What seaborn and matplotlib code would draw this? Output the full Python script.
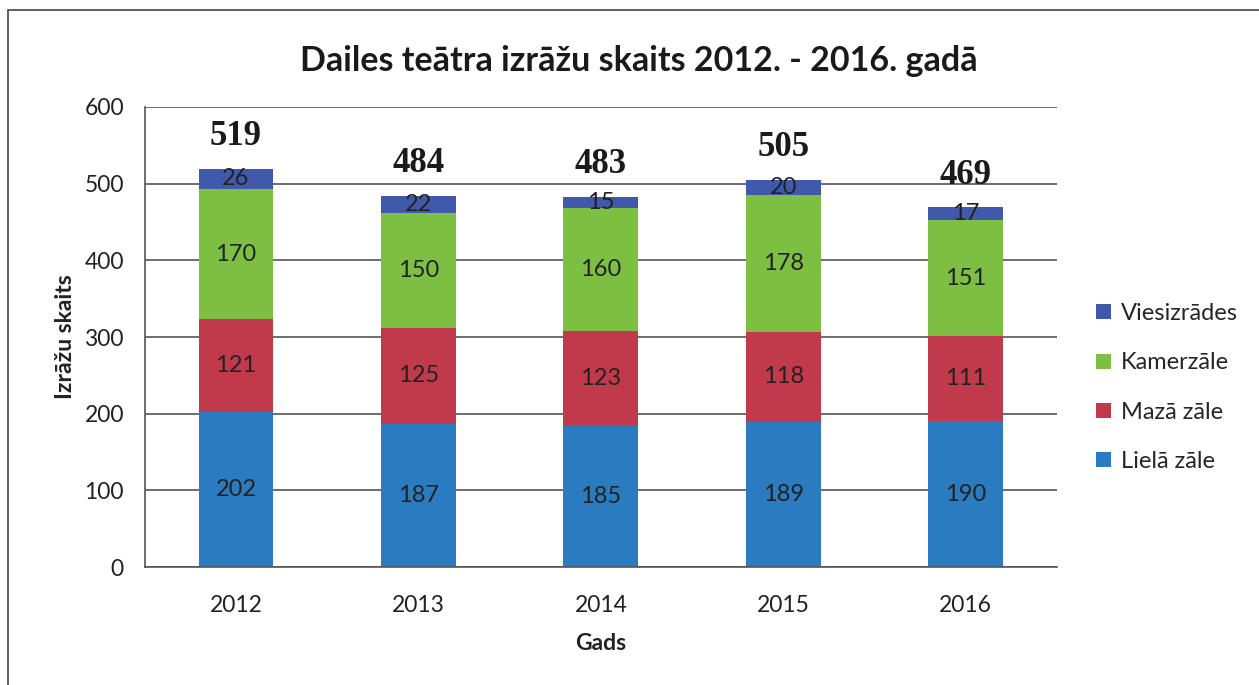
import matplotlib
matplotlib.use("Agg")
import matplotlib.pyplot as plt
import seaborn as sns
import pandas as pd
import numpy as np
from matplotlib.patches import Rectangle

years = ["2012", "2013", "2014", "2015", "2016"]
liela_zale = [202, 187, 185, 189, 190]
maza_zale = [121, 125, 123, 118, 111]
kamerzale = [170, 150, 160, 178, 151]
viesizrades = [26, 22, 15, 20, 17]
totals = [519, 484, 483, 505, 469]
series_names = ["Lielā zāle", "Mazā zāle", "Kamerzāle", "Viesizrādes"]
title = "Dailes teātra izrāžu skaits 2012. - 2016. gadā"

colors = ["#2a7bc0", "#c03a4c", "#7dbf43", "#4059ab"]

sns.set_style("white")
plt.rcParams["font.family"] = ["Lato", "DejaVu Sans"]

fig = plt.figure(figsize=(12.59, 6.85), dpi=100)
ax = fig.add_axes([0.115, 0.172, 0.7245, 0.672])

df = pd.DataFrame({"year": years, series_names[0]: liela_zale, series_names[1]: maza_zale,
                   series_names[2]: kamerzale, series_names[3]: viesizrades})

bottom = np.zeros(len(years))
for name, col in zip(series_names, colors):
    vals = df[name].to_numpy()
    sns.barplot(data=df, x="year", y=name, color=col, bottom=bottom, width=0.41,
                ax=ax, label=name, saturation=1, linewidth=0, edgecolor="none")
    bottom = bottom + vals

# segment labels
bottom = np.zeros(len(years))
for name in series_names:
    vals = df[name].to_numpy()
    for i, v in enumerate(vals):
        ax.text(i, bottom[i] + v / 2, str(v), ha="center", va="center",
                fontsize=17, color="#222222")
    bottom = bottom + vals

# totals
for i, t in enumerate(totals):
    ax.text(i, t + 42, str(t), ha="center", va="center", fontsize=25,
            fontweight="bold", family="Liberation Serif", color="#1a1a1a")

ax.set_ylim(0, 600)
ax.set_xlim(-0.5, len(years) - 0.5)
ax.set_yticks(range(0, 601, 100))
ax.yaxis.grid(True, color="#555555", linewidth=1.2)
ax.set_axisbelow(True)
for s in ["top", "right"]:
    ax.spines[s].set_visible(False)
for s in ["left", "bottom"]:
    ax.spines[s].set_color("#555555")
    ax.spines[s].set_linewidth(1.2)

ax.set_xticks(np.arange(len(years)))
ax.set_xticklabels(years)
ax.set_xticks(np.arange(-0.5, len(years)), minor=True)
ax.tick_params(axis="x", which="major", length=0, labelsize=16.5, pad=20, colors="#222222")
ax.tick_params(axis="x", which="minor", length=7, width=1.2, color="#555555", direction="out")
ax.tick_params(axis="y", which="major", length=7, width=1.2, color="#555555",
               direction="out", labelsize=16.5, labelcolor="#222222", pad=8)

ax.set_xlabel("Gads", fontsize=16.5, fontweight="bold", color="#222222", labelpad=12)
ax.set_ylabel("Izrāžu skaits", fontsize=16.5, fontweight="bold", color="#222222", labelpad=6)

fig.suptitle(title, fontsize=24.5, fontweight="bold", x=0.507, y=0.935, color="#1a1a1a")

handles, labels = ax.get_legend_handles_labels()
ax.legend(handles[::-1], labels[::-1], loc="center left", bbox_to_anchor=(1.02, 0.39),
          frameon=False, fontsize=17, handlelength=0.6, handleheight=0.6,
          labelspacing=1.2, handletextpad=0.45)

fig.patches.append(Rectangle((0.006, -0.1), 1.1, 1.085, transform=fig.transFigure,
                             fill=False, edgecolor="#444444", linewidth=1.2))

fig.savefig("out.png", dpi=100)
